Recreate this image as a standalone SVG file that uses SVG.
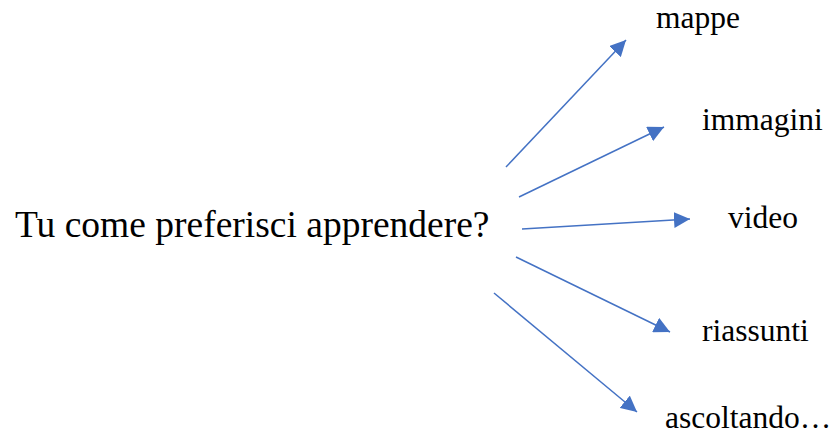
<svg xmlns="http://www.w3.org/2000/svg" width="834" height="436" viewBox="0 0 834 436">
<style>
text{font-family:"Liberation Serif","Times New Roman",serif;fill:#000}
.main{font-size:37.5px}
.lbl{font-size:31.5px}
.c line{stroke:#4472C4;stroke-width:1.5;fill:none}
</style>
<defs>
<marker id="a" viewBox="0 0 10 10" refX="10" refY="5" markerWidth="16" markerHeight="16" markerUnits="userSpaceOnUse" orient="auto">
<path d="M0,0 L10,5 L0,10 Z" fill="#4472C4"/>
</marker>
</defs>
<rect width="834" height="436" fill="#fff"/>
<g id="center"><text class="main" x="15" y="237">Tu come preferisci apprendere?</text></g>
<g id="n-mappe"><text class="lbl" x="656" y="28">mappe</text></g>
<g id="n-immagini"><text class="lbl" x="702" y="130">immagini</text></g>
<g id="n-video"><text class="lbl" x="728" y="228">video</text></g>
<g id="n-riassunti"><text class="lbl" x="702" y="341">riassunti</text></g>
<g id="n-ascoltando"><text class="lbl" x="665" y="428">ascoltando…</text></g>
<g id="connectors" class="c">
<line x1="506" y1="167" x2="626" y2="40" marker-end="url(#a)"/>
<line x1="519" y1="197" x2="664" y2="127" marker-end="url(#a)"/>
<line x1="522" y1="229" x2="690" y2="219" marker-end="url(#a)"/>
<line x1="516" y1="257" x2="670" y2="332" marker-end="url(#a)"/>
<line x1="494" y1="293" x2="637" y2="412" marker-end="url(#a)"/>
</g>
</svg>
